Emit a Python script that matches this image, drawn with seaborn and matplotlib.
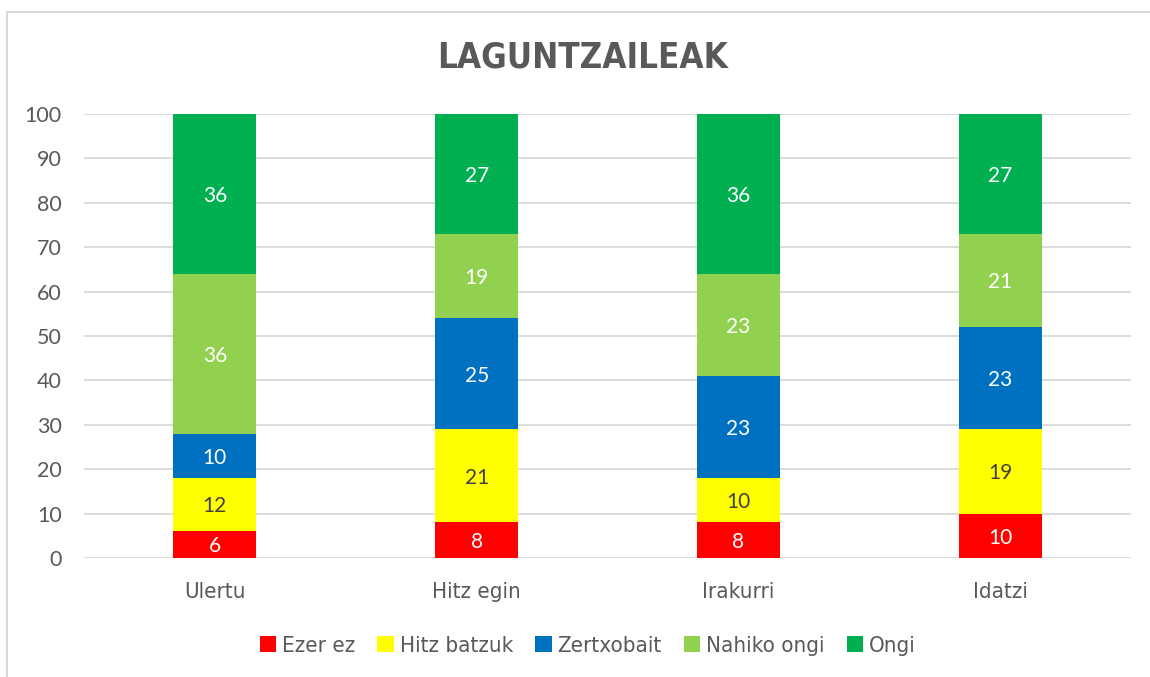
import pandas as pd
import seaborn as sns
import matplotlib.pyplot as plt
from matplotlib.patches import Patch
from matplotlib.lines import Line2D
from matplotlib import font_manager

# Data
skills = ["Ulertu", "Hitz egin", "Irakurri", "Idatzi"]
levels = ["Ezer ez", "Hitz batzuk", "Zertxobait", "Nahiko ongi", "Ongi"]
ezer_ez = [6, 8, 8, 10]
hitz_batzuk = [12, 21, 10, 19]
zertxobait = [10, 25, 23, 23]
nahiko_ongi = [36, 19, 23, 21]
ongi = [36, 27, 36, 27]

colors = ["#FF0000", "#FFFF00", "#0070C0", "#92D050", "#00B050"]
label_colors = ["white", "#404040", "white", "white", "white"]

df = pd.DataFrame({"skill": skills, "Ezer ez": ezer_ez, "Hitz batzuk": hitz_batzuk,
                   "Zertxobait": zertxobait, "Nahiko ongi": nahiko_ongi, "Ongi": ongi})
cum = df[levels].cumsum(axis=1)

sns.set_style("white")
num_font = ["Lato", "DejaVu Sans"]
grey = "#595959"

# condensed text font for title, categories and legend
narrow_reg = font_manager.FontProperties(family="DejaVu Sans", stretch="condensed", size=16)
narrow_bold = font_manager.FontProperties(family="DejaVu Sans", stretch="condensed",
                                          weight="bold", size=25)

fig = plt.figure(figsize=(11.5, 6.77), dpi=100)
ax = fig.add_axes([84 / 1150, 1 - 558 / 677, (1131 - 84) / 1150, (558 - 114) / 677])

# stacked bars: draw cumulative totals from top layer down
for i in reversed(range(len(levels))):
    sns.barplot(x=df["skill"], y=cum[levels[i]], color=colors[i], width=0.317,
                saturation=1, ax=ax, linewidth=0, zorder=2)

# value labels
for i, lev in enumerate(levels):
    for j in range(len(skills)):
        val = df[lev][j]
        mid = cum[lev][j] - val / 2
        ax.text(j, mid - 0.4, str(val), ha="center", va="center", fontsize=15,
                color=label_colors[i], family=num_font, zorder=3)

ax.set_ylim(0, 100)
ax.set_xlim(-0.5, 3.5)
ax.set_yticks(range(0, 101, 10))
ax.yaxis.grid(True, color="#D9D9D9", linewidth=1.3, zorder=0)
ax.set_axisbelow(True)
for s in ax.spines.values():
    s.set_visible(False)
ax.set_xlabel("")
ax.set_ylabel("")
ax.tick_params(axis="both", length=0)
ax.tick_params(axis="y", pad=16)
ax.tick_params(axis="x", pad=17)
for t in ax.get_yticklabels():
    t.set_family(num_font)
    t.set_fontsize(15.5)
    t.set_color(grey)
for t in ax.get_xticklabels():
    t.set_fontproperties(narrow_reg)
    t.set_color(grey)

fig.text(0.507, 1 - 58 / 677, "LAGUNTZAILEAK", ha="center", va="center",
         fontproperties=narrow_bold, color=grey)

handles = [Patch(facecolor=c, edgecolor="none") for c in colors]
leg = fig.legend(handles, levels, loc="center", bbox_to_anchor=(0.511, 1 - 646 / 677),
                 ncol=5, frameon=False, handlelength=0.75, handleheight=0.75,
                 handletextpad=0.25, columnspacing=1.0, prop=narrow_reg)
for t in leg.get_texts():
    t.set_color(grey)

# chart border
fig.add_artist(Line2D([7 / 1150, 7 / 1150], [0, 1 - 12 / 677], color="#D9D9D9",
                      linewidth=1.5, transform=fig.transFigure))
fig.add_artist(Line2D([7 / 1150, 1], [1 - 12 / 677, 1 - 12 / 677], color="#D9D9D9",
                      linewidth=1.5, transform=fig.transFigure))

fig.savefig("out.png", dpi=100)
